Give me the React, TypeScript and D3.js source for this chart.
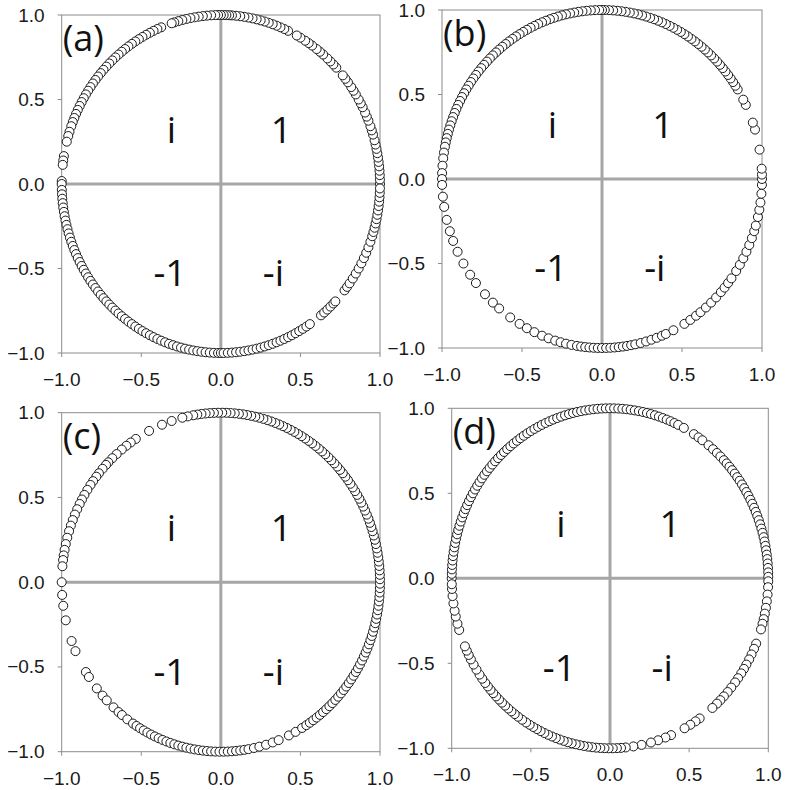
import * as d3 from "d3";

// phases (degrees) of the unit-modulus samples
const phasesA = [
  0, 1.5, 3, 4.5, 6, 7.5, 9, 10.5, 12, 13.5, 15, 17, 18.5, 20, 22, 23.5, 25, 27, 28.5, 30, 32, 33.5, 35, 37, 38.5, 40,
  43.5, 45, 46.5, 48, 50, 51.5, 53, 55, 56.5, 58, 60, 61.5,
  65, 66.5, 68, 69.5, 71, 72.5, 74, 75.5, 77, 78.5, 80, 81.5, 83, 84.5, 86, 87, 88, 89, 90, 91, 92, 93.5, 95, 96.5, 98,
  99.5, 101, 102.5, 104, 105.5, 107, 108,
  112, 113.5, 115, 116.5, 118, 119.5, 121, 122.5, 124, 125.5, 127, 128.5, 130, 131.5, 133, 134.5, 136, 137.5, 139, 140.5,
  142, 143.5, 145, 146.5, 148, 149.5, 151, 152.5, 154, 155.5, 157, 158.5, 160, 162, 163.5, 165.5,
  170.5, 172, 173.5, 179, 180, 182, 183.5, 185, 186.5, 188, 189.5, 191, 192.5, 194, 195.5, 197, 198.5, 200, 201.5, 203,
  204.5, 206, 207.5, 209, 210.5, 212, 213.5, 215, 216.5, 218, 219.5, 221, 222.5, 224, 225.5, 227, 228.5, 230, 231.5, 233,
  234.5, 236, 237.5, 239, 240.5, 242, 243.5, 245, 246.5, 248, 249.5, 251, 252.5, 254, 255.5, 257, 258.5, 260, 261.5, 263,
  264.5, 266, 267.5, 269, 270, 271, 272.5, 274, 275.5, 277, 278.5, 280, 281.5, 283, 284.5, 286, 287.5, 289, 290.5, 292,
  293.5, 295, 296.5, 298, 299.5, 301, 302.5, 304,
  309, 310.5, 312, 313.5, 315, 316,
  321, 322.5, 324, 326, 328, 330, 332, 334, 336, 338, 340, 342, 343.5, 345, 346.5, 348, 349.5, 351, 352.5, 354, 355.5,
  357, 358.5,
];

const phasesB = [
  -2, 0, 1.5, 3.5, 10, 17, 19.5, 26, 28,
  32, 33.5, 35, 36.5, 38, 39.5, 41, 42.5, 44, 45.5, 47, 48.5, 50, 51.5, 53, 54.5, 56, 57.5, 59, 60.5, 62, 63.5, 65, 66.5,
  68, 69.5, 71, 72.5, 74, 75.5, 77, 78.5, 80, 81.5, 83, 84.5, 86, 87.5, 89, 90, 91, 92.5, 94, 95.5, 97, 98.5, 100, 101.5,
  103, 104.5, 106, 107.5, 109, 110.5, 112, 113.5, 115, 116.5, 118, 119.5, 121, 122.5, 124, 125.5, 127, 128.5, 130, 131.5,
  133, 134.5, 136, 137.5, 139, 140.5, 142, 143.5, 145, 146.5, 148, 149.5, 151, 152.5, 154, 155.5, 157, 158.5, 160, 161.5,
  163, 164.5, 166, 167.5, 169, 171, 173, 175.5, 178, 180,
  -178, -174, -170.5, -166, -162, -158.5, -154.5, -150, -145.5, -142, -137, -133, -130, -125, -121, -118, -115, -112,
  -109.5, -107, -105, -103, -101, -99, -97.5, -96, -94.5, -93, -91.5, -90, -88.5, -87, -85.5, -84, -82.5, -81, -79.5,
  -78, -76, -74, -72, -70, -68, -66.5, -63.5, -59, -56.5, -54, -52, -49.5, -47, -44.5, -42, -40, -38, -36, -33, -30.5,
  -28, -25.5, -23, -20.5, -18, -16, -13, -10.5, -8, -5,
];

const phasesC = [
  180, -175.7, -172, -167, -159.7, -156, -148, -146, -141.2, -138, -135.8, -132.4, -130, -128.4, -126, -123.5, -122,
  -120.5, -119, -117.5, -116, -114.5, -113, -111.5, -110, -108.5, -107, -105.5, -104, -102.5, -101, -99.5, -98, -96.5,
  -95, -93.5, -92, -90.5, -89, -87.5, -86, -84.5, -83, -81.5, -80, -78, -76, -73.5, -71, -68.7, -64.7, -62, -59.3,
  -57.5, -56, -54.5, -53, -51.5, -50, -48.5, -47, -45.5, -44, -42.5, -41, -39.5, -38, -36.5, -35, -33.5, -32, -30.5,
  -29, -27.5, -26, -24.5, -23, -21.5, -20, -18.5, -17, -15.5, -14, -12.5, -11, -9.5, -8, -6.5, -5, -3.5, -2, -0.5, 1,
  2.5, 4, 5.5, 7, 8.5, 10, 11.5, 13, 14.5, 16, 17.5, 19, 20.5, 22, 23.5, 25, 26.5, 28, 29.5, 31, 32.5, 34, 35.5, 37,
  38.5, 40, 41.5, 43, 44.5, 46, 47.5, 49, 50.5, 52, 53.5, 55, 56.5, 58, 59.5, 61, 62.5, 64, 65.5, 67, 68.5, 70, 71.5,
  73, 74.5, 76, 77.5, 79, 80.5, 82, 83.5, 85, 86.5, 88, 89.5, 91, 92.5, 94, 95.5, 97, 98.5, 100, 102, 104, 108, 111.7,
  116.8, 122.3, 124.5, 126.4, 128.5, 130.9, 133, 135, 136.2, 138, 140, 141.5, 143.4, 145, 147, 149, 150.8, 152.5,
  154.5, 156.5, 158.5, 160.5, 162.5, 164.8, 167, 169, 170.9, 172.5, 174.6,
];

const phasesD = [
  180, 178.5, 177, 175.5, 174, 172.5, 171, 169.5, 168, 166.5, 165, 163.5, 162, 160.5, 159, 157.5, 156, 154.5, 153,
  151.5, 150, 148.5, 147, 145.5, 144, 142.5, 141, 139.5, 138, 136.5, 135, 133.5, 132, 130.5, 129, 127.5, 126, 124.5,
  123, 121.5, 120, 118.5, 117, 115.5, 114, 112.5, 111, 109.5, 108, 106.5, 105, 103.5, 102, 100.5, 99, 97.5, 96, 94.5,
  93, 91.5, 90, 88.5, 87, 85.5, 84, 82.5, 81, 79.5, 78, 76.5, 75, 73.5, 72, 70.5, 69, 67.5, 66, 64.5, 62.2,
  58, 56, 54.3, 51.5, 49.4, 47.5, 45.8, 44, 42.5, 41, 39.5, 38, 36.5, 35, 33.5, 32, 30.5, 29, 27.5, 26, 24.5, 23, 21.5,
  20, 18.5, 17, 15.5, 14, 12.5, 11, 9.5, 8, 6.5, 5, 3.5, 2, 0.5, -1, -3, -5.5, -7.8, -10, -12, -13.9, -15.5, -17.5,
  -22.6, -24.5, -26.6, -28.5, -30.5, -32.2, -34, -36, -37.8, -40, -42, -44, -45.8, -47.5, -49.7,
  -55.5, -57.3, -59.5, -61.9,
  -67.3, -69.5, -72.3, -75, -78.5, -81.5, -84.3, -86, -87.5, -89, -90.5, -92, -93.5, -95, -96.5, -98, -99.5, -101,
  -102.5, -104, -105.5, -107, -108.5, -110, -111.5, -113, -114.5, -116, -117.5, -119, -120.5, -122, -123.7, -125.5,
  -127, -128.5, -130, -131.5, -133, -134.5, -136, -137.5, -139, -140.5, -142, -143.8, -145.5, -147.5, -149.5, -151.5,
  -153.2, -154.8, -156.4,
  -162.3, -164.5, -167, -169, -171.5, -174, -176.4, -178,
];

const tickValues = [-1, -0.5, 0, 0.5, 1];
const panelNames = ["(a)", "(b)", "(c)", "(d)"];
const quadrantLabels = ["i", "1", "-1", "-i"];
const quadrantRe = [-0.31, 0.38, -0.32, 0.33];
const quadrantIm = [0.33, 0.33, -0.52, -0.52];

// pixel boxes of the four plot areas (left, right, top, bottom)
const boxes = [
  [61.7, 380, 15, 353],
  [442, 762, 10, 348],
  [61.7, 380, 412.7, 751.7],
  [451.7, 768.3, 408.3, 748.3],
];

const allPhases = [phasesA, phasesB, phasesC, phasesD];

const frameColor = "#8c8c8c";
const crossColor = "#a6a6a6";
const tickFont = "'Liberation Sans', Arial, sans-serif";
const labelFont = "'Open Sans', 'Noto Sans', sans-serif";

const fmt = d3.format(".1f");

function Panel({ idx }: { idx: number }) {
  const [l, r, t, b] = boxes[idx];
  const x = d3.scaleLinear().domain([-1, 1]).range([l, r]);
  const y = d3.scaleLinear().domain([-1, 1]).range([b, t]);
  const rad = (deg: number) => (deg * Math.PI) / 180;

  return (
    <g>
      <rect x={l} y={t} width={r - l} height={b - t} fill="none" stroke={frameColor} strokeWidth={1} />
      <line x1={x(-1)} x2={x(1)} y1={y(0)} y2={y(0)} stroke={crossColor} strokeWidth={3} />
      <line x1={x(0)} x2={x(0)} y1={y(-1)} y2={y(1)} stroke={crossColor} strokeWidth={3} />

      {tickValues.map((v) => (
        <g key={"y" + v}>
          <line x1={l - 4} x2={l} y1={y(v)} y2={y(v)} stroke={frameColor} />
          <text
            x={l - 17}
            y={y(v)}
            textAnchor="end"
            dominantBaseline="central"
            fontFamily={tickFont}
            fontSize={19}
            fill="#1a1a1a"
          >
            {fmt(v)}
          </text>
        </g>
      ))}
      {tickValues.map((v) => (
        <g key={"x" + v}>
          <line x1={x(v)} x2={x(v)} y1={b} y2={b + 4} stroke={frameColor} />
          <text
            x={x(v)}
            y={b + 33}
            textAnchor="middle"
            fontFamily={tickFont}
            fontSize={19}
            fill="#1a1a1a"
          >
            {fmt(v)}
          </text>
        </g>
      ))}

      {quadrantLabels.map((q, i) => (
        <text
          key={q}
          x={x(quadrantRe[i])}
          y={y(quadrantIm[i])}
          textAnchor="middle"
          dominantBaseline="central"
          fontFamily={labelFont}
          fontSize={37}
          fill="#111"
        >
          {q}
        </text>
      ))}

      <text x={l + 1} y={t + 36} fontFamily={labelFont} fontSize={36} fill="#111">
        {panelNames[idx]}
      </text>

      {allPhases[idx].map((p, i) => (
        <circle
          key={i}
          cx={x(Math.cos(rad(p)))}
          cy={y(Math.sin(rad(p)))}
          r={4.5}
          fill="#fff"
          stroke="#1a1a1a"
          strokeWidth={1}
        />
      ))}
    </g>
  );
}

export default function App() {
  return (
    <svg
      width={786}
      height={790}
      style={{ position: "absolute", left: 0, top: 0, background: "#fff" }}
    >
      {boxes.map((_, i) => (
        <Panel key={i} idx={i} />
      ))}
    </svg>
  );
}
